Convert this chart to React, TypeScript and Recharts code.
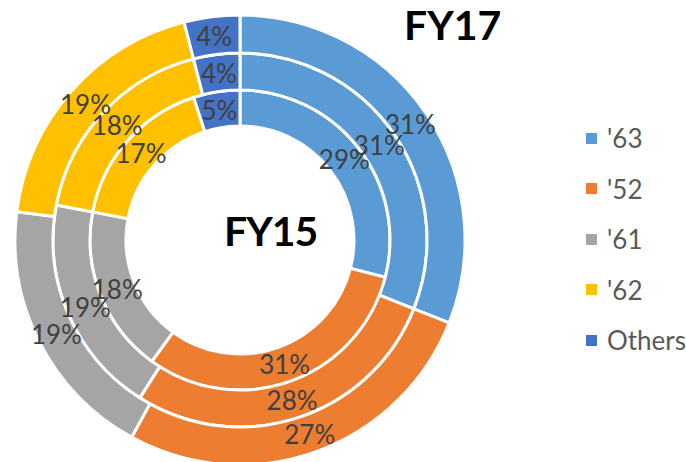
import { PieChart, Pie, Cell, Legend } from 'recharts'

const categories = ["'63", "'52", "'61", "'62", 'Others']
const fy15 = [29, 31, 18, 17, 5]
const fy16 = [31, 28, 19, 18, 4]
const fy17 = [31, 27, 19, 19, 4]
const colors = ['#5B9BD5', '#ED7D31', '#A5A5A5', '#FFC000', '#4472C4']

const toRows = (values: number[]) => categories.map((name, i) => ({ name, value: values[i] }))

const RAD = Math.PI / 180

// percentage label at the middle of each ring segment
function renderLabel(props: any) {
  const { cx, cy, midAngle, innerRadius, outerRadius, value } = props
  const r = (innerRadius + outerRadius) / 2
  const x = cx + r * Math.cos(-midAngle * RAD)
  const y = cy + r * Math.sin(-midAngle * RAD)
  return (
    <text x={x} y={y} fill="#404040" textAnchor="middle" dominantBaseline="central" fontSize={26} fontFamily="Lato">
      {`${value}%`}
    </text>
  )
}

function LegendList() {
  return (
    <div style={{ fontFamily: 'Lato', fontSize: 26, color: '#595959' }}>
      {categories.map((c, i) => (
        <div key={c} style={{ display: 'flex', alignItems: 'center', height: 50.5 }}>
          <span style={{ width: 11, height: 11, background: colors[i], marginRight: 10 }} />
          <span style={{ whiteSpace: 'nowrap' }}>{c}</span>
        </div>
      ))}
    </div>
  )
}

const rings = [
  { data: fy15, inner: 114, outer: 150 },
  { data: fy16, inner: 150, outer: 187 },
  { data: fy17, inner: 187, outer: 225 },
]

export default function App() {
  return (
    <div style={{ position: 'relative', width: 686, height: 462, overflow: 'hidden', background: '#fff' }}>
      <style>{'body{margin:0}'}</style>
      <PieChart width={686} height={462} margin={{ top: 0, right: 0, bottom: 0, left: 0 }}>
        {rings.map((ring, k) => (
          <Pie
            key={k}
            data={toRows(ring.data)}
            dataKey="value"
            nameKey="name"
            cx={240}
            cy={240}
            innerRadius={ring.inner}
            outerRadius={ring.outer}
            startAngle={90}
            endAngle={-270}
            stroke="#fff"
            strokeWidth={3}
            label={renderLabel}
            labelLine={false}
            isAnimationActive={false}
          >
            {ring.data.map((_, i) => (
              <Cell key={i} fill={colors[i]} />
            ))}
          </Pie>
        ))}
        <Legend
          layout="vertical"
          content={() => <LegendList />}
          wrapperStyle={{ position: 'absolute', left: 586, top: 113, width: 120 }}
        />
      </PieChart>
      <div style={{ position: 'absolute', left: 0, top: 0, width: 686, height: 462, pointerEvents: 'none', fontFamily: 'Lato', fontWeight: 700, fontSize: 41, color: '#000' }}>
        <div style={{ position: 'absolute', left: 404, top: 4, lineHeight: 1 }}>FY17</div>
        <div style={{ position: 'absolute', left: 224, top: 210, lineHeight: 1, letterSpacing: -1 }}>FY15</div>
      </div>
    </div>
  )
}
